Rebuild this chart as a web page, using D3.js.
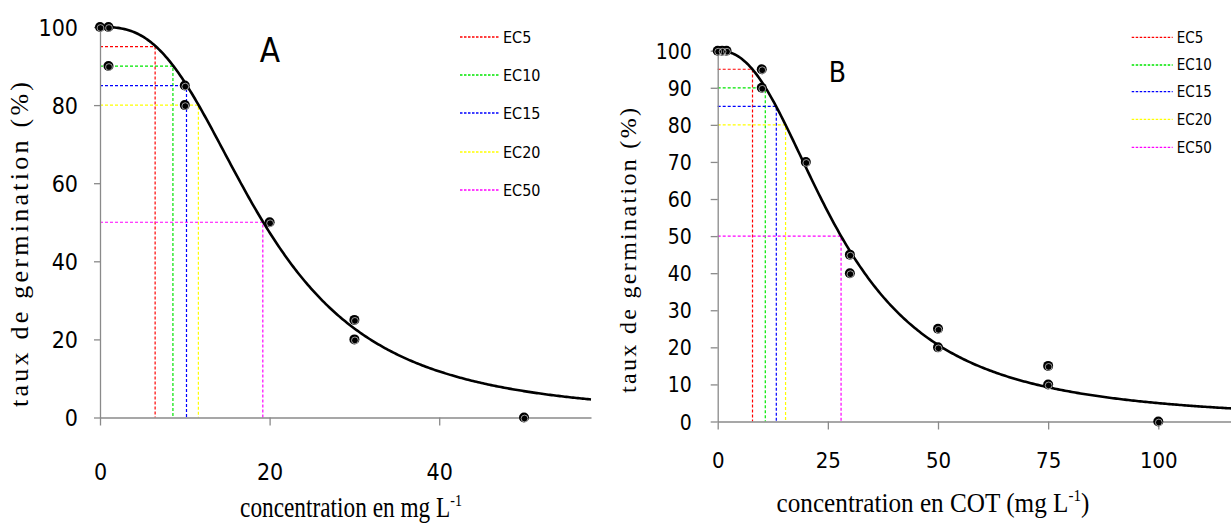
<!DOCTYPE html>
<html><head><meta charset="utf-8">
<script src="https://cdn.jsdelivr.net/npm/d3@7"></script>
<style>body{margin:0;background:#fff}svg{display:block}</style>
</head><body><svg id="c" width="1231" height="524"></svg>
<script>
// ---------- data ----------
const ecLabels = ["EC5", "EC10", "EC15", "EC20", "EC50"];
const ecPercents = [5, 10, 15, 20, 50];
const ecColors = ["#ff0000", "#00e600", "#0000ff", "#ffff00", "#ff00ff"];

// Panel A
const concA = [0, 1, 1, 10, 10, 20, 30, 30, 50];
const germA = [100, 100, 90, 85, 80, 50, 25, 20, 0];
const ecValuesA = [6.5, 8.6, 10.2, 11.6, 19.2];
const fitA = { ec50: 19.25, slope: 2.75 };
const xTicksA = [0, 20, 40];
const yTicksA = [0, 20, 40, 60, 80, 100];

// Panel B
const concB = [0, 1, 2, 10, 10, 20, 30, 30, 50, 50, 75, 75, 100];
const germB = [100, 100, 100, 95, 90, 70, 45, 40, 25, 20, 15, 10, 0];
const ecValuesB = [7.9, 10.8, 13.3, 15.4, 28.0];
const fitB = { ec50: 28.0, slope: 2.32 };
const xTicksB = [0, 25, 50, 75, 100];
const yTicksB = [0, 10, 20, 30, 40, 50, 60, 70, 80, 90, 100];

const yTitle = "taux de germination (%)";

// ---------- drawing ----------
const svg = d3.select("#c");
const SANS = "'Liberation Sans Narrow','Arial Narrow','DejaVu Sans Condensed',sans-serif";
const SERIF = "'Liberation Serif','Times New Roman',serif";
const AXIS = "#8a8a8a";

function drawPanel(cfg) {
  const g = svg.append("g");
  const x = d3.scaleLinear().domain([0, cfg.xMax]).range([cfg.left, cfg.right]);
  const y = d3.scaleLinear().domain([0, 100]).range([cfg.bottom, cfg.top]);

  // EC guide lines
  cfg.ecValues.forEach((v, i) => {
    const p = 100 - ecPercents[i];
    g.append("path")
      .attr("d", `M${x(0)},${y(p)}H${x(v)}V${y(0)}`)
      .attr("fill", "none").attr("stroke", ecColors[i])
      .attr("stroke-width", 1.2).attr("stroke-dasharray", "3,2");
  });

  // axes
  const ya = d3.axisLeft(y).tickValues(cfg.yTicks).tickSize(cfg.yTickLen).tickSizeOuter(0);
  const yg = g.append("g").attr("transform", `translate(${cfg.left},0)`).call(ya);
  yg.selectAll("text").attr("x", -cfg.yLabelGap).attr("dy", "0.36em")
    .style("font-family", SANS).style("font-size", cfg.yFont + "px").attr("fill", "#000");

  const xa = d3.axisBottom(x).tickValues(cfg.xTicks).tickSize(8).tickSizeOuter(0);
  const xg = g.append("g").attr("transform", `translate(0,${cfg.bottom})`).call(xa);
  xg.selectAll("text").attr("y", cfg.xLabelOffset).attr("dy", 0)
    .style("font-family", SANS).style("font-size", cfg.xFont + "px").attr("fill", "#000");

  [yg, xg].forEach(a => {
    a.selectAll("path,line").attr("stroke", AXIS).attr("stroke-width", 1.3);
  });

  // fitted log-logistic curve
  const model = c => 100 / (1 + Math.pow(c / cfg.fit.ec50, cfg.fit.slope));
  const xs = d3.range(0, cfg.xMax, cfg.xMax / 300).concat([cfg.xMax]);
  g.append("path")
    .datum(xs)
    .attr("d", d3.line().x(c => x(c)).y(c => y(model(c))))
    .attr("fill", "none").attr("stroke", "#000").attr("stroke-width", 2.6);

  // observations
  const pts = d3.zip(cfg.conc, cfg.germ);
  g.selectAll(null).data(pts).join("circle")
    .attr("cx", d => x(d[0])).attr("cy", d => y(d[1])).attr("r", 5).attr("fill", "#000");
  g.selectAll(null).data(pts).join("circle")
    .attr("cx", d => x(d[0]) + 0.5).attr("cy", d => y(d[1]) + 1).attr("r", 3.4)
    .attr("fill", "none").attr("stroke", "#fff").attr("stroke-width", 0.6);

  // panel letter
  g.append("text").attr("x", cfg.letter[0]).attr("y", cfg.letter[1])
    .attr("text-anchor", "middle").style("font-family", SANS)
    .style("font-size", cfg.letterFont + "px").text(cfg.letterText);

  // legend
  ecLabels.forEach((lab, i) => {
    const ly = cfg.legendY[i];
    g.append("line").attr("x1", cfg.legendX[0]).attr("x2", cfg.legendX[1])
      .attr("y1", ly).attr("y2", ly).attr("stroke", ecColors[i])
      .attr("stroke-width", 1.3).attr("stroke-dasharray", "2.5,1.5");
    g.append("text").attr("x", cfg.legendX[1] + 4).attr("y", ly).attr("dy", "0.36em")
      .style("font-family", SANS).style("font-size", cfg.legendFont + "px").text(lab);
  });

  // y title (rotated)
  g.append("text")
    .attr("transform", `translate(${cfg.yTitle.x},${cfg.yTitle.cy}) rotate(-90)`)
    .attr("text-anchor", "middle")
    .attr("textLength", cfg.yTitle.len).attr("lengthAdjust", "spacing")
    .style("font-family", SERIF).style("font-size", cfg.yTitle.font + "px")
    .text(yTitle);

  // x title with superscript
  const xt = g.append("text").attr("text-anchor", "middle")
    .style("font-family", SERIF).style("font-size", cfg.xTitle.font + "px");
  xt.append("tspan").text(cfg.xTitle.pre);
  xt.append("tspan").attr("dy", -cfg.xTitle.font * 0.38).style("font-size", (cfg.xTitle.font * 0.6) + "px").text("-1");
  if (cfg.xTitle.post) xt.append("tspan").attr("dy", cfg.xTitle.font * 0.38).text(cfg.xTitle.post);
  const w = xt.node().getBBox().width;
  xt.attr("transform", `translate(${cfg.xTitle.cx},${cfg.xTitle.y}) scale(${cfg.xTitle.w / w},1)`);
}

drawPanel({
  conc: concA, germ: germA, ecValues: ecValuesA, fit: fitA,
  xTicks: xTicksA, yTicks: yTicksA,
  xMax: 57.9, left: 100, right: 591, top: 27, bottom: 417.5,
  yTickLen: 6, yLabelGap: 22, yFont: 23, xFont: 23, xLabelOffset: 62.5,
  letter: [270, 62], letterFont: 33, letterText: "A",
  legendX: [460, 499], legendY: [37, 75, 113, 152, 190], legendFont: 16,
  yTitle: { x: 28, cy: 244.5, len: 325, font: 26 },
  xTitle: { pre: "concentration en mg L", post: "", cx: 351, y: 517, w: 222, font: 29 }
});

drawPanel({
  conc: concB, germ: germB, ecValues: ecValuesB, fit: fitB,
  xTicks: xTicksB, yTicks: yTicksB,
  xMax: 116.5, left: 717.7, right: 1231, top: 50.7, bottom: 421.5,
  yTickLen: 7, yLabelGap: 26, yFont: 21, xFont: 22, xLabelOffset: 46.5,
  letter: [837.5, 82], letterFont: 28, letterText: "B",
  legendX: [1131.7, 1172.7], legendY: [37.3, 65, 91.7, 119.3, 147.3], legendFont: 15,
  yTitle: { x: 636, cy: 250.5, len: 285, font: 24 },
  xTitle: { pre: "concentration en COT (mg L", post: ")", cx: 933, y: 512, w: 313, font: 28 }
});
</script>
</body></html>
